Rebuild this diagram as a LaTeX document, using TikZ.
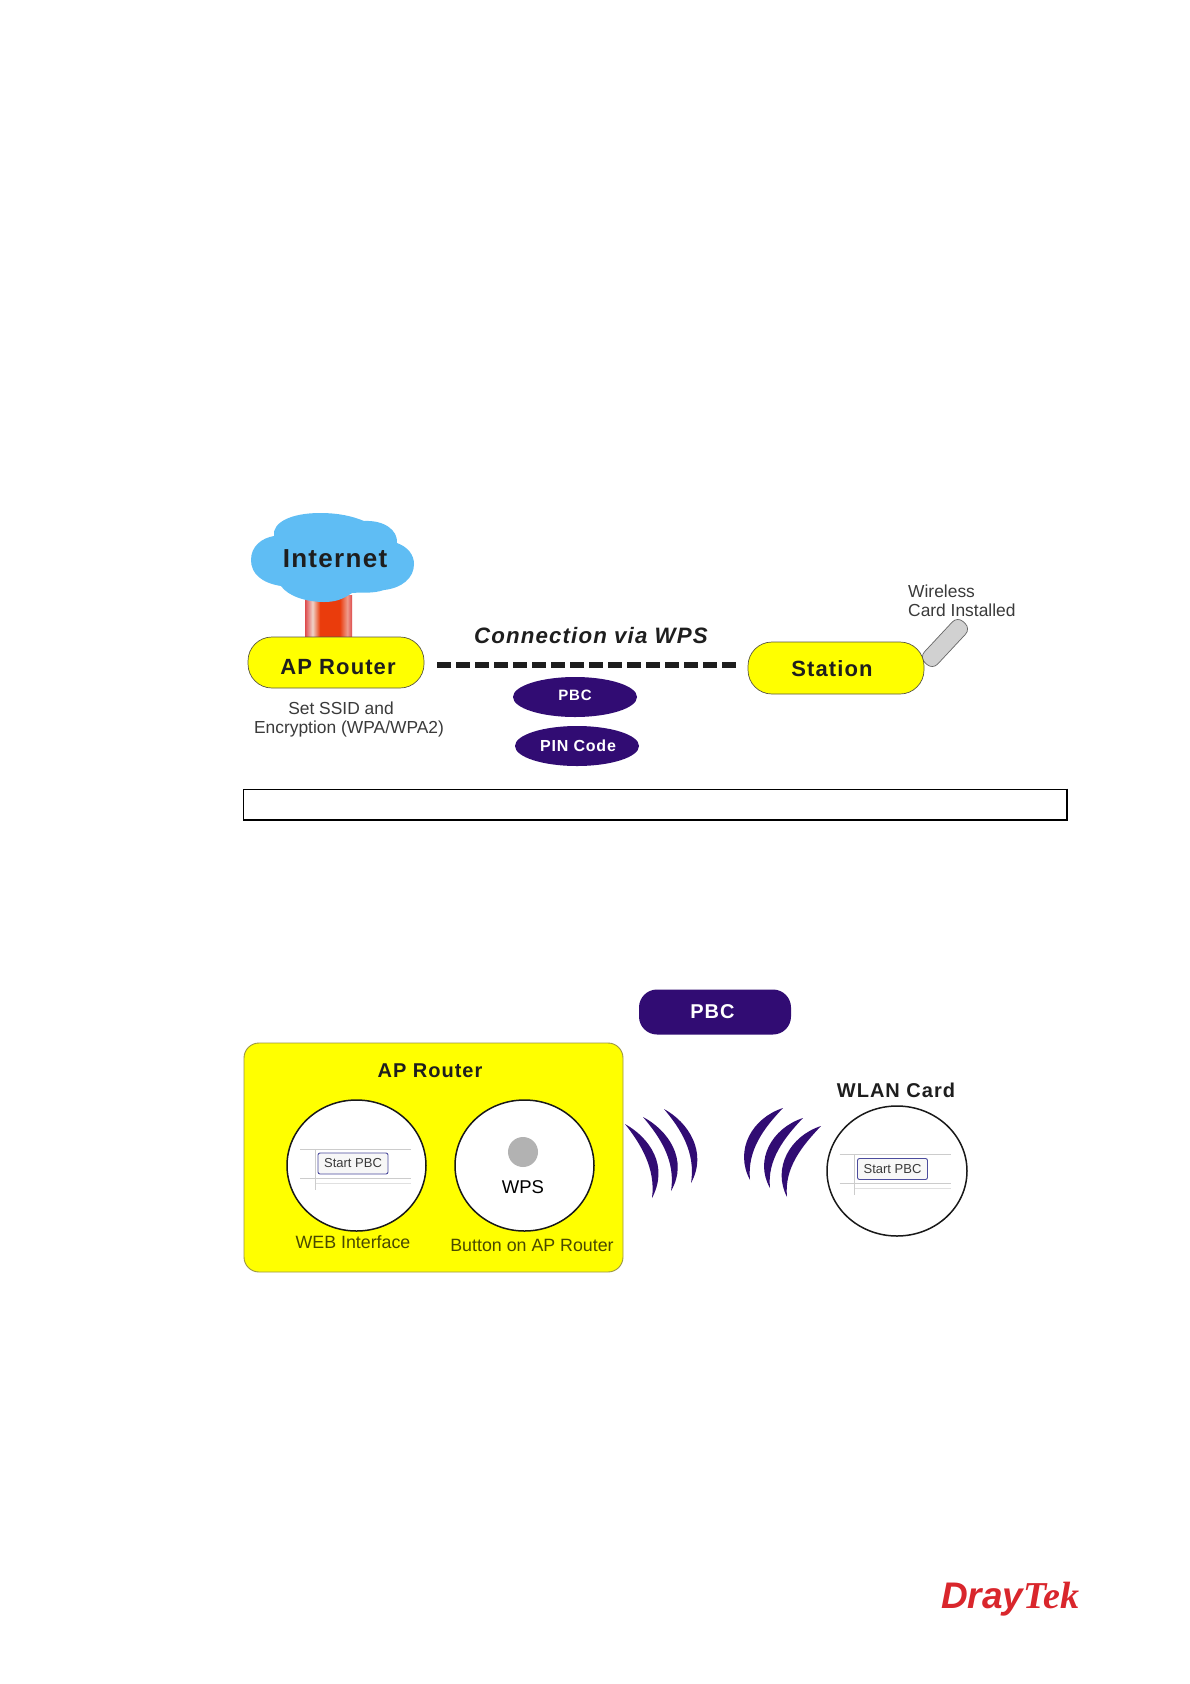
\documentclass[tikz,border=0pt]{standalone}
\usepackage{fontspec}
\setmainfont{Liberation Sans}
\newfontfamily\logoserif{Liberation Serif}
\newfontfamily\spacedfont[LetterSpace=5]{Liberation Sans}
\usetikzlibrary{shapes.geometric,calc}
\definecolor{apyellow}{HTML}{FFFF00}
\definecolor{wpspurple}{HTML}{310C73}
\definecolor{cloudblue}{HTML}{5FBDF4}
\definecolor{logored}{HTML}{D9262C}
\definecolor{inktext}{HTML}{1E1E1E}
\definecolor{graytext}{HTML}{3A3A3A}
\definecolor{olivetext}{HTML}{494900}
\definecolor{pipeedge}{HTML}{DE4A4C}
\definecolor{pipelight}{HTML}{EFD2C8}
\definecolor{pipecore}{HTML}{EA3C0C}
\definecolor{pipepink}{HTML}{EE9C8C}
\newcommand{\fsz}[1]{\fontsize{#1}{#1}\selectfont}
\pgfdeclarehorizontalshading{pipeshade}{100bp}{
  color(0bp)=(pipeedge);
  color(25bp)=(pipeedge);
  color(33bp)=(pipelight);
  color(41bp)=(pipecore);
  color(62bp)=(pipecore);
  color(70bp)=(pipepink);
  color(75bp)=(pipeedge);
  color(100bp)=(pipeedge)}
\tikzset{
  pill/.style={draw=black!75!yellow,line width=0.7pt,fill=apyellow,rounded corners=24pt,inner sep=0pt,
    minimum width=176pt,minimum height=51pt,text=inktext,font=\spacedfont\bfseries\fsz{22}},
  oval/.style={ellipse,fill=wpspurple,inner sep=0pt,minimum width=124pt,minimum height=40pt,text=white},
  note/.style={inner sep=0pt,text=graytext,font=\fsz{17.4},align=left},
  heading/.style={inner sep=0pt,text=inktext,font=\spacedfont\bfseries\fsz{20}},
  lens/.style={ellipse,draw=black!90,line width=1.5pt,fill=white,inner sep=0pt,minimum width=139pt,minimum height=131pt},
  caption/.style={inner sep=0pt,text=olivetext,font=\fsz{17.8}},
  wave/.style={fill=wpspurple,draw=none},
  pics/pbcshot/.style={code={
    \draw[black!20,line width=0.9pt] (-53,-14.5) -- (58,-14.5) (-53,14.5) -- (58,14.5);
    \draw[black!12,line width=0.9pt] (-38,19.5) -- (58,19.5);
    \draw[black!20,line width=0.9pt] (-38,-14.5) -- (-38,26);
    \node[draw=blue!45!black!70,line width=0.9pt,fill=black!3,rounded corners=2pt,inner sep=0pt,
      minimum width=70pt,minimum height=21pt,text=graytext,font=\fsz{13}] (#1) {Start PBC};
  }}
}
\begin{document}
\begin{tikzpicture}[x=1pt,y=-1pt]
\useasboundingbox[fill=white] (0,0) rectangle (1190,1684);

% pipe and wireless card go behind the pills
\path[shading=pipeshade] (305,595) rectangle (352,638);
\node[rotate=47,draw=black!60,line width=0.7pt,fill=black!18,rounded corners=7.5pt,inner sep=0pt,
  minimum width=56pt,minimum height=18pt] (wcard) at (945,643) {};

% cloud
\path[fill=cloudblue]
  (251,560) .. controls (251,546) and (262,538) .. (274,536)
  .. controls (272,522) and (292,513) .. (320,513)
  .. controls (338,513) and (352,516) .. (364,521)
  .. controls (384,520) and (398,530) .. (397,543)
  .. controls (408,547) and (414,555) .. (414,564)
  .. controls (414,578) and (402,588) .. (384,590)
  .. controls (372,594) and (362,592) .. (352,593)
  .. controls (342,600) and (334,602) .. (324,602)
  .. controls (306,602) and (288,596) .. (281,586)
  .. controls (262,583) and (251,574) .. (251,560) -- cycle;
\node[inner sep=0pt,text=inktext,font=\spacedfont\bfseries\fsz{26}] (internet) at (335,559) {Internet};

% top row
\node[pill,text height=23pt,text depth=0pt] (ap) at (336,662.5) {\hspace*{4pt}AP Router};
\node[pill,minimum height=52pt,text height=17pt,text depth=0pt] (st) at (836,668) {\hspace*{-8pt}Station};
\draw[line width=6pt,inktext,dash pattern=on 14pt off 5pt] ([shift={(13,2.5)}]ap.east) -- ([shift={(-11,-3)}]st.west);
\node[inner sep=0pt,text=inktext,font=\spacedfont\bfseries\itshape\fsz{22.3}] (via) at (591,636) {Connection via WPS};
\node[oval,font=\spacedfont\bfseries\fsz{15},text height=7pt,text depth=0pt] (pbc1) at (575,697) {PBC};
\node[oval,font=\spacedfont\bfseries\fsz{16}] (pin) at (577,746) {\hspace*{2pt}PIN Code};
\node[note,align=center] (ssid) at (349,719.5) {Set SSID and\hspace*{16pt}\\[1.5pt]Encryption (WPA/WPA2)};
\node[note,anchor=west] (card) at (908,601) {Wireless\\[1.5pt]Card Installed};

% empty caption box
\node[draw=black,line width=1pt,fill=white,inner sep=0pt,minimum width=823pt,minimum height=30pt] (box) at (654.5,804) {};
\draw[black,line width=2pt] (box.north east) -- (box.south east) -- (box.south west);

% PBC scheme
\node[draw=black!45!yellow,line width=0.9pt,fill=apyellow,rounded corners=15pt,inner sep=0pt,minimum width=379pt,minimum height=229pt] (router) at (433.5,1157.5) {};
\node[heading] (aptitle) at (430,1071) {AP Router};
\node[lens] (web) at (356.5,1165.5) {};
\node[lens] (btn) at (524.5,1165.5) {};
\pic at (353,1163.5) {pbcshot=startap};
\node[circle,fill=black!30,inner sep=0pt,minimum size=30pt] (dot) at (523,1152) {};
\node[inner sep=0pt,font=\fsz{18.5},text=black] (wps) at (523,1187) {WPS};
\node[caption] (webcap) at (353,1242) {WEB Interface};
\node[caption] (btncap) at (532,1245) {Button on AP Router};
\node[fill=wpspurple,rounded corners=18pt,inner sep=0pt,minimum width=152pt,minimum height=45pt,text=white,font=\spacedfont\bfseries\fsz{20}] (pbc2) at (715,1012) {\hspace*{-5pt}PBC};
\node[heading] (wlantitle) at (896,1090) {WLAN Card};
\node[lens,minimum width=140pt,minimum height=130pt] (wlan) at (897,1171) {};
\pic at (892.5,1169) {pbcshot=startwlan};

% waves, router side
\path[wave] (625,1124) .. controls (650,1138) and (669,1166) .. (652,1198) .. controls (656,1168) and (640,1143) .. (625,1124) -- cycle;
\path[wave] (643,1117) .. controls (668,1130) and (689,1160) .. (671,1191) .. controls (676,1160) and (659,1136) .. (643,1117) -- cycle;
\path[wave] (664,1109) .. controls (688,1122) and (708,1152) .. (691,1183) .. controls (696,1152) and (680,1128) .. (664,1109) -- cycle;
% waves, card side
\path[wave] (783,1108) .. controls (752,1118) and (734,1150) .. (750,1180) .. controls (747,1150) and (764,1128) .. (783,1108) -- cycle;
\path[wave] (803,1118) .. controls (772,1128) and (754,1160) .. (770,1188) .. controls (767,1160) and (784,1138) .. (803,1118) -- cycle;
\path[wave] (821,1126) .. controls (790,1136) and (772,1168) .. (787,1197) .. controls (784,1168) and (802,1146) .. (821,1126) -- cycle;

% logo
\node[inner sep=0pt,anchor=base west,text=logored] (logo) at (941,1608)
  {{\bfseries\itshape\fsz{37}Dray}{\logoserif\bfseries\itshape\fsz{38}Tek}};
\end{tikzpicture}
\end{document}
